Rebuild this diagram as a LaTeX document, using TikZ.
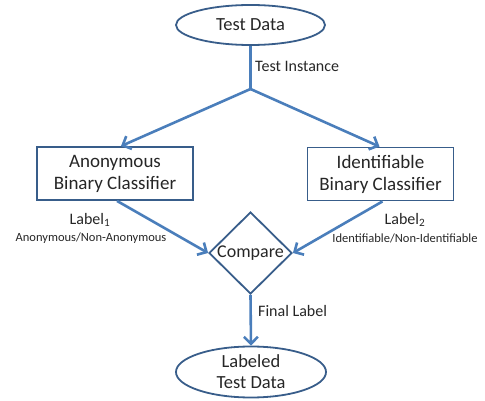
\documentclass[tikz,border=0pt]{standalone}
\usepackage{fontspec}
\setmainfont{Carlito}
\usetikzlibrary{shapes.geometric,arrows.meta,calc}
\definecolor{conn}{RGB}{74,126,187}
\definecolor{bord}{RGB}{56,93,138}
\definecolor{txt}{RGB}{38,38,38}
\tikzset{
  every node/.style={text=txt},
  connline/.style={draw=conn, line width=2.6pt},
  arr/.style={connline, -{Straight Barb[length=7pt,width=14pt]}},
  ovalbox/.style={ellipse, draw=bord, line width=1.8pt, inner sep=0pt, align=center, font=\fontsize{18.5}{21}\selectfont},
  classbox/.style={rectangle, draw=bord, line width=1.8pt, inner sep=0pt, align=center, font=\fontsize{19}{22}\selectfont},
  lbl/.style={font=\fontsize{16}{19}\selectfont, inner sep=0pt},
  smalllbl/.style={font=\fontsize{12.5}{15}\selectfont, inner sep=0pt}
}
\begin{document}
\begin{tikzpicture}[x=1pt,y=-1pt]
\useasboundingbox (0,0) rectangle (485,401);
\node[ovalbox, minimum width=149pt, minimum height=40pt] (td) at (250.5,25) {Test Data};
\coordinate (j) at (250.5,89);
\node[classbox, minimum width=156pt, minimum height=53pt] (lb) at (115,173.5) {Anonymous\\Binary Classifier};
\node[classbox, minimum width=146pt, minimum height=53pt] (rb) at (380.5,174) {Identifiable\\Binary Classifier};
\node[diamond, draw=bord, line width=1.8pt, minimum width=83pt, minimum height=82pt, inner sep=0pt] (cmp) at (250.5,253) {};
\node[font=\fontsize{18}{21}\selectfont, inner sep=0pt] (cmpt) at (cmp.center) {Compare};
\node[ovalbox, minimum width=150pt, minimum height=51pt] (ltd) at (251,372) {Labeled\\Test Data};

\draw[connline] (td.south) -- (j);
\draw[arr] (j) -- ([xshift=6pt]lb.north);
\draw[arr] (j) -- ([xshift=-1pt]rb.north);
\draw[arr] ([xshift=2pt]lb.south) -- (cmp.west);
\draw[arr] ([xshift=2pt]rb.south) -- (cmp.east);
\draw[arr] (cmp.south) -- (ltd.north);

\node[lbl, anchor=west] (ti) at (255,66) {Test Instance};
\node[lbl] (l1) at (90,220) {Label\textsubscript{1}};
\node[smalllbl] (l1s) at (91,238.5) {Anonymous/Non-Anonymous};
\node[lbl] (l2) at (405,220) {Label\textsubscript{2}};
\node[smalllbl] (l2s) at (405,238.5) {Identifiable/Non-Identifiable};
\node[lbl, anchor=west] (fl) at (258,311) {Final Label};
\end{tikzpicture}
\end{document}
